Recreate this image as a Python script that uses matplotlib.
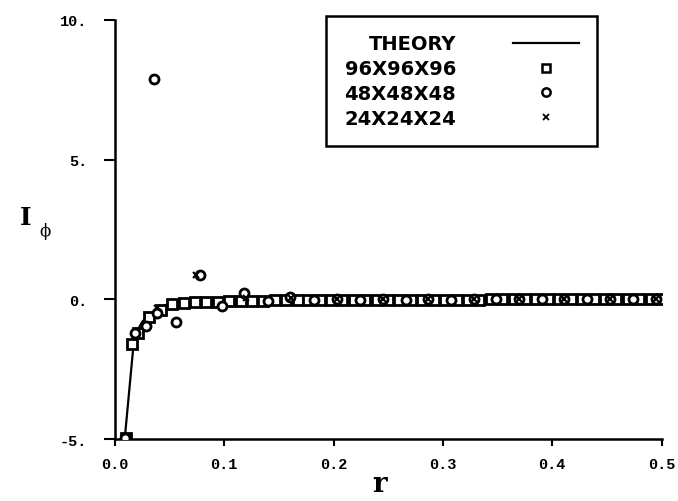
import matplotlib
matplotlib.use("Agg")
from matplotlib import pyplot as plt
from matplotlib.lines import Line2D

# theory curve
theory_r = [0.009, 0.017, 0.020, 0.025, 0.030, 0.035, 0.040, 0.045, 0.050, 0.060,
            0.070, 0.080, 0.100, 0.150, 0.200, 0.300, 0.400, 0.500]
theory_i = [-4.95, -1.60, -1.15, -0.80, -0.62, -0.48, -0.34, -0.22, -0.16, -0.11,
            -0.08, -0.06, -0.04, -0.03, -0.02, -0.01, -0.005, 0.0]

# 96x96x96 grid
r96 = [0.010, 0.016, 0.021, 0.031, 0.042, 0.052, 0.063, 0.073, 0.083, 0.094,
       0.104, 0.115, 0.125, 0.135, 0.146, 0.156, 0.167, 0.177, 0.188, 0.198,
       0.208, 0.219, 0.229, 0.240, 0.250, 0.260, 0.271, 0.281, 0.292, 0.302,
       0.313, 0.323, 0.333, 0.344, 0.354, 0.365, 0.375, 0.385, 0.396, 0.406,
       0.417, 0.427, 0.438, 0.448, 0.458, 0.469, 0.479, 0.490, 0.500]
i96 = [-4.95, -1.60, -1.20, -0.65, -0.38, -0.18, -0.14, -0.11, -0.09, -0.08,
       -0.07, -0.06, -0.05, -0.05, -0.04, -0.04, -0.03, -0.03, -0.03, -0.02,
       -0.02, -0.02, -0.02, -0.02, -0.01, -0.01, -0.01, -0.01, -0.01, -0.01,
       -0.01, -0.01, -0.01, 0.0, 0.0, 0.0, 0.0, 0.0, 0.0, 0.0,
       0.0, 0.0, 0.0, 0.0, 0.0, 0.0, 0.0, 0.0, 0.0]

# 48x48x48 grid
r48 = [0.009, 0.018, 0.028, 0.036, 0.038, 0.056, 0.078, 0.098, 0.118, 0.140,
       0.160, 0.182, 0.203, 0.224, 0.245, 0.266, 0.286, 0.307, 0.328, 0.349,
       0.370, 0.391, 0.411, 0.432, 0.453, 0.474, 0.495]
i48 = [-4.95, -1.20, -0.95, 7.90, -0.50, -0.82, 0.88, -0.25, 0.22, -0.05,
       0.08, -0.03, 0.0, -0.02, 0.0, -0.01, 0.0, -0.01, 0.0, 0.0,
       0.0, 0.0, 0.0, 0.0, 0.0, 0.0, 0.0]

# 24x24x24 grid
r24 = [0.038, 0.074, 0.120, 0.161, 0.203, 0.245, 0.286, 0.328, 0.370, 0.411,
       0.453, 0.495]
i24 = [-0.30, 0.88, 0.05, 0.05, 0.0, 0.0, 0.0, 0.0, 0.0, 0.0,
       0.0, 0.0]

xticks = [0.0, 0.1, 0.2, 0.3, 0.4, 0.5]
xtick_labels = ["0.0", "0.1", "0.2", "0.3", "0.4", "0.5"]
yticks = [-5, 0, 5, 10]
ytick_labels = ["-5.", "0.", "5.", "10."]

fig = plt.figure(figsize=(6.78, 5.02), dpi=100)
ax = fig.add_axes([115 / 678, 1 - 440 / 502, 546.5 / 678, 419 / 502])

ax.plot(theory_r, theory_i, color="black", lw=1.6, zorder=2)
ax.plot(r96, i96, ls="none", marker="s", ms=6.5, mfc="white", mec="black",
        mew=2.0, zorder=3)
ax.plot(r48, i48, ls="none", marker="o", ms=6.5, mfc="white", mec="black",
        mew=2.0, zorder=3)
ax.plot(r24, i24, ls="none", marker="x", ms=5, color="black", mew=1.5,
        zorder=4)

ax.set_xlim(0.0, 0.5)
ax.set_ylim(-5, 10)
ax.spines["top"].set_visible(False)
ax.spines["right"].set_visible(False)
ax.spines["left"].set_linewidth(1.8)
ax.spines["bottom"].set_linewidth(1.8)

ax.set_xticks(xticks)
ax.set_xticklabels(xtick_labels, family="Liberation Mono", fontsize=11,
                   weight="bold")
ax.set_yticks(yticks)
ax.set_yticklabels(ytick_labels, family="Liberation Mono", fontsize=11,
                   weight="bold")
ax.tick_params(axis="x", direction="out", length=5, width=1.5, pad=8)
ax.tick_params(axis="y", direction="out", length=8, width=1.5, pad=12)

handles = [
    Line2D([], [], color="black", lw=1.6),
    Line2D([], [], ls="none", marker="s", ms=6, mfc="white", mec="black", mew=1.8),
    Line2D([], [], ls="none", marker="o", ms=6, mfc="white", mec="black", mew=1.8),
    Line2D([], [], ls="none", marker="x", ms=5, color="black", mew=1.3),
]
labels = ["THEORY", "96X96X96", "48X48X48", "24X24X24"]
leg = ax.legend(handles, labels, loc="upper left",
                bbox_to_anchor=((326 - 115) / 546.5, (440 - 17) / 419),
                borderaxespad=0, markerfirst=False, frameon=True,
                fancybox=False, edgecolor="black", framealpha=1,
                prop={"family": "DejaVu Sans", "weight": "bold", "size": 14},
                handlelength=3.4, handletextpad=2.9, borderpad=0.95,
                labelspacing=0.3)
leg.get_frame().set_linewidth(1.8)

fig.text(0.030, 0.565, "I", family="DejaVu Serif", weight="bold",
         fontsize=18, ha="left", va="center")
fig.text(0.058, 0.538, "\u03d5", family="DejaVu Serif", fontsize=12,
         ha="left", va="center")
fig.text(380 / 678, 1 - 485 / 502, "r", family="DejaVu Serif",
         weight="bold", fontsize=20, ha="center", va="center")

fig.savefig("out.png", dpi=100)
